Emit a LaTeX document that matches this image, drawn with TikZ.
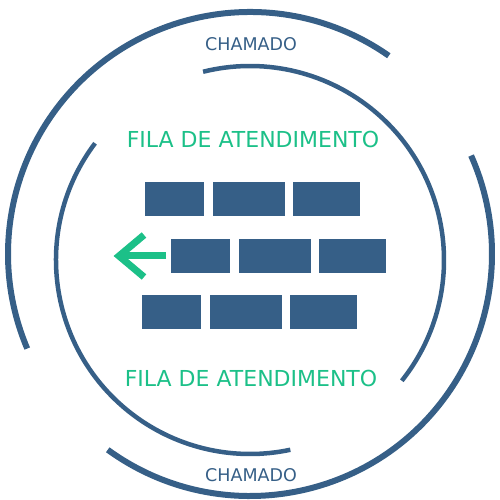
\documentclass[tikz,border=0pt]{standalone}
\usepackage{fontspec}
\setmainfont{DejaVu Sans}
\definecolor{navy}{RGB}{54,95,135}
\definecolor{mint}{RGB}{28,192,136}
\begin{document}
\begin{tikzpicture}[x=1pt,y=1pt,
  blk/.style={fill=navy,draw=none,minimum height=34pt,inner sep=0pt},
  bw1/.style={blk,minimum width=59pt},
  bw2/.style={blk,minimum width=72pt},
  bw3/.style={blk,minimum width=67pt},
  ring/.style={draw=navy,line width=6pt},
  iring/.style={draw=navy,line width=4.5pt},
  lbl/.style={text=navy,font=\fontsize{17.5}{20}\selectfont,inner sep=0pt},
  ttl/.style={text=mint,font=\fontsize{22}{25}\selectfont,inner sep=0pt}]
\useasboundingbox (0,0) rectangle (500,500);
\coordinate (oc) at (250,246);
\coordinate (ic) at (250,240);
% outer arcs
\draw[ring] (oc) ++(55:242) arc[start angle=55,end angle=203,radius=242];
\draw[ring] (oc) ++(234:242) arc[start angle=234,end angle=384,radius=242];
% inner arcs
\draw[iring] (ic) ++(-38.5:194) arc[start angle=-38.5,end angle=104,radius=194];
\draw[iring] (ic) ++(143:194) arc[start angle=143,end angle=282,radius=194];
% blocks
\node[bw1] (a1) at (174.5,301) {};
\node[bw2] (a2) at (249,301) {};
\node[bw3] (a3) at (326.5,301) {};
\node[bw1] (b1) at (200.5,244) {};
\node[bw2] (b2) at (275,244) {};
\node[bw3] (b3) at (352.5,244) {};
\node[bw1] (c1) at (171.5,188) {};
\node[bw2] (c2) at (246,188) {};
\node[bw3] (c3) at (323.5,188) {};
% arrow
\coordinate (tip) at (119,244);
\coordinate (tail) at (166,244);
\coordinate (hu) at (144,265);
\coordinate (hd) at (144,223);
\draw[mint,line width=7pt] (tail) -- (tip);
\draw[mint,line width=7pt,line join=miter] (hu) -- (tip) -- (hd);
% texts
\node[lbl] (t1) at (251,456) {CHAMADO};
\node[ttl] (t2) at (253,361) {FILA DE ATENDIMENTO};
\node[ttl] (t3) at (251,122) {FILA DE ATENDIMENTO};
\node[lbl] (t4) at (251,25) {CHAMADO};
\end{tikzpicture}
\end{document}
